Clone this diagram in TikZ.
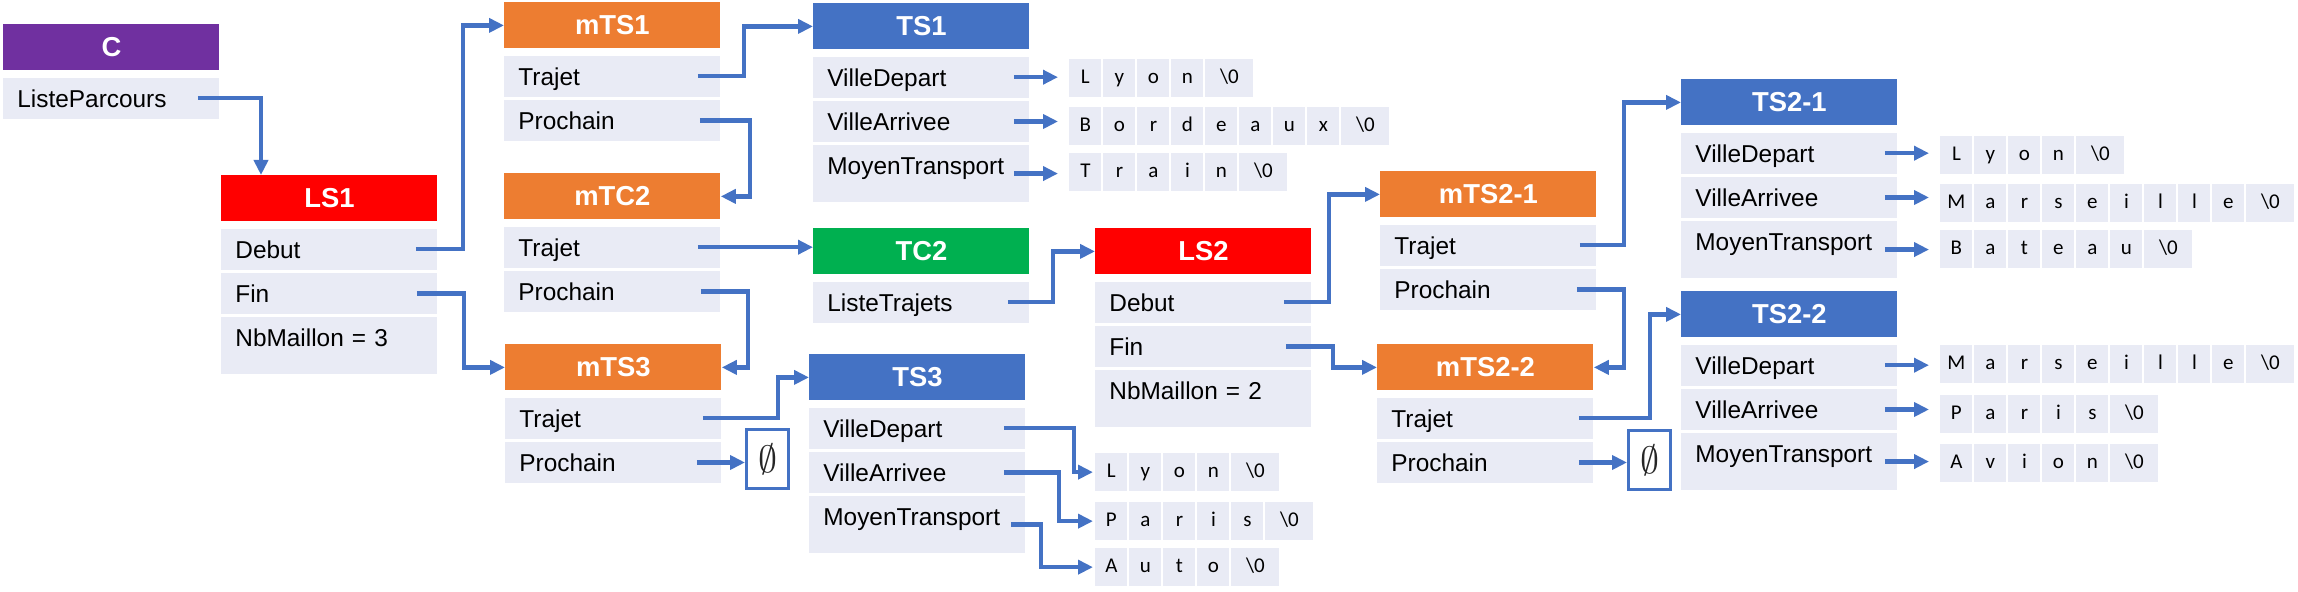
\documentclass[tikz,border=0pt]{standalone}
\usepackage{fontspec}
\setmainfont{Liberation Sans}
\newfontfamily\calibfont{Carlito}
\usetikzlibrary{arrows.meta}
\definecolor{cpurple}{HTML}{7030A0}
\definecolor{cred}{HTML}{FF0000}
\definecolor{corange}{HTML}{ED7D31}
\definecolor{cblue}{HTML}{4472C4}
\definecolor{cgreen}{HTML}{00B050}
\definecolor{rowc}{HTML}{E9EBF5}
\definecolor{arrc}{HTML}{4472C4}
\newcommand\myhfont{\fontsize{13.7}{14}\selectfont\bfseries}
\newcommand\myrfont{\fontsize{12.2}{13}\selectfont}
\newcommand\mycfont{\calibfont\fontsize{10.5}{11}\selectfont}
\newcommand\mynull{\scalebox{1.9}{$\emptyset$}}
\newcommand{\mkstr}[4]{%
  \foreach \ch [count=\i] in {#4} {
    \node[cell] (#1-\i) at ({#2+(\i-1)*34},#3) {\ch};
    \xdef\lastn{\i}
  }
  \node[zcell] (#1-z) at ({#2+\lastn*34},#3) {\textbackslash 0};
}
\begin{document}
\begin{tikzpicture}[x=0.5pt,y=-0.5pt,
  hdr/.style={anchor=north west, minimum width=108pt, minimum height=23pt, inner sep=0pt, text=white, font=\myhfont},
  row/.style={anchor=north west, fill=rowc, minimum width=108pt, minimum height=20.5pt, inner xsep=7pt, inner ysep=0pt, text width=94pt, align=left, text height=12pt, text depth=3pt, font=\myrfont},
  tallrow/.style={row, minimum height=28.25pt, text depth=10.75pt},
  cell/.style={anchor=north west, fill=rowc, minimum width=16pt, minimum height=18.75pt, inner sep=0pt, text height=7.5pt, text depth=2pt, font=\mycfont},
  zcell/.style={cell, minimum width=24pt},
  nul/.style={anchor=north west, draw=arrc, line width=1.5pt, minimum width=21pt, minimum height=29.5pt, inner sep=0pt, fill=white, text=black!85},
  arr/.style={draw=arrc, line width=2.2pt, -{Triangle[length=7.5pt,width=7pt]}},
]
\useasboundingbox (0,0) rectangle (2298,592);

% C
\node[hdr,fill=cpurple] (C) at (3,24) {C};
\node[row] (C-l) at ([yshift=-3.25pt]C.south west) {ListeParcours};

% LS1
\node[hdr,fill=cred] (LS1) at (221,175) {LS1};
\node[row] (LS1-d) at ([yshift=-3.25pt]LS1.south west) {Debut};
\node[row] (LS1-f) at ([yshift=-1.25pt]LS1-d.south west) {Fin};
\node[tallrow] (LS1-n) at ([yshift=-1.25pt]LS1-f.south west) {NbMaillon = 3};

% mTS1
\node[hdr,fill=corange] (mTS1) at (504,2) {mTS1};
\node[row] (mTS1-t) at ([yshift=-3.25pt]mTS1.south west) {Trajet};
\node[row] (mTS1-p) at ([yshift=-1.25pt]mTS1-t.south west) {Prochain};

% mTC2
\node[hdr,fill=corange] (mTC2) at (504,173) {mTC2};
\node[row] (mTC2-t) at ([yshift=-3.25pt]mTC2.south west) {Trajet};
\node[row] (mTC2-p) at ([yshift=-1.25pt]mTC2-t.south west) {Prochain};

% mTS3
\node[hdr,fill=corange] (mTS3) at (505,344) {mTS3};
\node[row] (mTS3-t) at ([yshift=-3.25pt]mTS3.south west) {Trajet};
\node[row] (mTS3-p) at ([yshift=-1.25pt]mTS3-t.south west) {Prochain};
\node[nul] (n1) at (745,428) {\mynull};

% TS1
\node[hdr,fill=cblue] (TS1) at (813,3) {TS1};
\node[row] (TS1-d) at ([yshift=-3.25pt]TS1.south west) {VilleDepart};
\node[row] (TS1-a) at ([yshift=-1.25pt]TS1-d.south west) {VilleArrivee};
\node[tallrow] (TS1-m) at ([yshift=-1.25pt]TS1-a.south west) {MoyenTransport};

% TC2
\node[hdr,fill=cgreen] (TC2) at (813,228) {TC2};
\node[row] (TC2-l) at ([yshift=-3.25pt]TC2.south west) {ListeTrajets};

% TS3
\node[hdr,fill=cblue] (TS3) at (809,354) {TS3};
\node[row] (TS3-d) at ([yshift=-3.25pt]TS3.south west) {VilleDepart};
\node[row] (TS3-a) at ([yshift=-1.25pt]TS3-d.south west) {VilleArrivee};
\node[tallrow] (TS3-m) at ([yshift=-1.25pt]TS3-a.south west) {MoyenTransport};

% LS2
\node[hdr,fill=cred] (LS2) at (1095,228) {LS2};
\node[row] (LS2-d) at ([yshift=-3.25pt]LS2.south west) {Debut};
\node[row] (LS2-f) at ([yshift=-1.25pt]LS2-d.south west) {Fin};
\node[tallrow] (LS2-n) at ([yshift=-1.25pt]LS2-f.south west) {NbMaillon = 2};

% mTS2-1
\node[hdr,fill=corange] (ma) at (1380,171) {mTS2-1};
\node[row] (ma-t) at ([yshift=-3.25pt]ma.south west) {Trajet};
\node[row] (ma-p) at ([yshift=-1.25pt]ma-t.south west) {Prochain};

% mTS2-2
\node[hdr,fill=corange] (mb) at (1377,344) {mTS2-2};
\node[row] (mb-t) at ([yshift=-3.25pt]mb.south west) {Trajet};
\node[row] (mb-p) at ([yshift=-1.25pt]mb-t.south west) {Prochain};
\node[nul] (n2) at (1627,429) {\mynull};

% TS2-1
\node[hdr,fill=cblue] (TSa) at (1681,79) {TS2-1};
\node[row] (TSa-d) at ([yshift=-3.25pt]TSa.south west) {VilleDepart};
\node[row] (TSa-a) at ([yshift=-1.25pt]TSa-d.south west) {VilleArrivee};
\node[tallrow] (TSa-m) at ([yshift=-1.25pt]TSa-a.south west) {MoyenTransport};

% TS2-2
\node[hdr,fill=cblue] (TSb) at (1681,291) {TS2-2};
\node[row] (TSb-d) at ([yshift=-3.25pt]TSb.south west) {VilleDepart};
\node[row] (TSb-a) at ([yshift=-1.25pt]TSb-d.south west) {VilleArrivee};
\node[tallrow] (TSb-m) at ([yshift=-1.25pt]TSb-a.south west) {MoyenTransport};

% strings
\mkstr{sa1}{1069}{59}{L,y,o,n}
\mkstr{sa2}{1069}{107}{B,o,r,d,e,a,u,x}
\mkstr{sa3}{1069}{153}{T,r,a,i,n}
\mkstr{sb1}{1095}{453}{L,y,o,n}
\mkstr{sb2}{1095}{502}{P,a,r,i,s}
\mkstr{sb3}{1095}{548}{A,u,t,o}
\mkstr{sc1}{1940}{136}{L,y,o,n}
\mkstr{sc2}{1940}{184}{M,a,r,s,e,i,l,l,e}
\mkstr{sc3}{1940}{230}{B,a,t,e,a,u}
\mkstr{sd1}{1940}{345}{M,a,r,s,e,i,l,l,e}
\mkstr{sd2}{1940}{395}{P,a,r,i,s}
\mkstr{sd3}{1940}{444}{A,v,i,o,n}

% connectors
\draw[arr] ([xshift=-11pt]C-l.east) -| ([xshift=20pt]LS1.north west);
\draw[arr] ([xshift=-11pt]LS1-d.east) -| ([xshift=-20.5pt]mTS1.west) -- (mTS1.west);
\draw[arr] ([xshift=-10.5pt]LS1-f.east) -| ([xshift=-20.5pt]mTS3.west) -- (mTS3.west);
\draw[arr] ([xshift=-11.5pt]mTS1-t.east) -| ([xshift=-34.5pt]TS1.west) -- (TS1.west);
\draw[arr] ([xshift=-10.5pt]mTS1-p.east) -| ([xshift=14.5pt]mTC2.east) -- (mTC2.east);
\draw[arr] ([xshift=-11.5pt]mTC2-t.east) -- (mTC2-t.east -| TC2.west);
\draw[arr] ([xshift=-10pt]mTC2-p.east) -| ([xshift=13pt]mTS3.east) -- (mTS3.east);
\draw[arr] ([xshift=-9.5pt]mTS3-t.east) -| ([xshift=-15.5pt]TS3.west) -- (TS3.west);
\draw[arr] ([xshift=-12.5pt]mTS3-p.east) -- (mTS3-p.east -| n1.west);
\draw[arr] ([xshift=-11pt]TC2-l.east) -| ([xshift=-21pt]LS2.west) -- (LS2.west);
\draw[arr] ([xshift=-14pt]LS2-d.east) -| ([xshift=-25.5pt]ma.west) -- (ma.west);
\draw[arr] ([xshift=-13pt]LS2-f.east) -| ([xshift=-22pt]mb.west) -- (mb.west);
\draw[arr] ([xshift=-8.5pt]ma-t.east) -| ([xshift=-28.5pt]TSa.west) -- (TSa.west);
\draw[arr] ([xshift=-10pt]ma-p.east) -| ([xshift=15pt]mb.east) -- (mb.east);
\draw[arr] ([xshift=-7.5pt]mb-t.east) -| ([xshift=-15.5pt]TSb.west) -- (TSb.west);
\draw[arr] ([xshift=-7.5pt]mb-p.east) -- (mb-p.east -| n2.west);

\draw[arr, shorten >=5.5pt] ([xshift=-8pt]TS1-d.east) -- (TS1-d.east -| sa1-1.west);
\draw[arr, shorten >=5.5pt] ([xshift=-8pt]TS1-a.east) -- (TS1-a.east -| sa2-1.west);
\draw[arr, shorten >=5.5pt] ([xshift=-8pt]TS1-m.east) -- (TS1-m.east -| sa3-1.west);

\draw[arr, shorten >=1pt] ([xshift=-11pt]TS3-d.east) -| ([xshift=-10.5pt]sb1-1.west) -- (sb1-1.west);
\draw[arr, shorten >=1pt] ([xshift=-11pt]TS3-a.east) -| ([xshift=-18pt]sb2-1.west) -- (sb2-1.west);
\draw[arr, shorten >=1pt] ([xshift=-7.5pt]TS3-m.east) -| ([xshift=-27pt]sb3-1.west) -- (sb3-1.west);

\draw[arr, shorten >=5.5pt] ([xshift=-6.5pt]TSa-d.east) -- (TSa-d.east -| sc1-1.west);
\draw[arr, shorten >=5.5pt] ([xshift=-6.5pt]TSa-a.east) -- (TSa-a.east -| sc2-1.west);
\draw[arr, shorten >=5.5pt] ([xshift=-6.5pt]TSa-m.east) -- (TSa-m.east -| sc3-1.west);
\draw[arr, shorten >=5.5pt] ([xshift=-6.5pt]TSb-d.east) -- (TSb-d.east -| sd1-1.west);
\draw[arr, shorten >=5.5pt] ([xshift=-6.5pt]TSb-a.east) -- (TSb-a.east -| sd2-1.west);
\draw[arr, shorten >=5.5pt] ([xshift=-6.5pt]TSb-m.east) -- (TSb-m.east -| sd3-1.west);
\end{tikzpicture}
\end{document}
